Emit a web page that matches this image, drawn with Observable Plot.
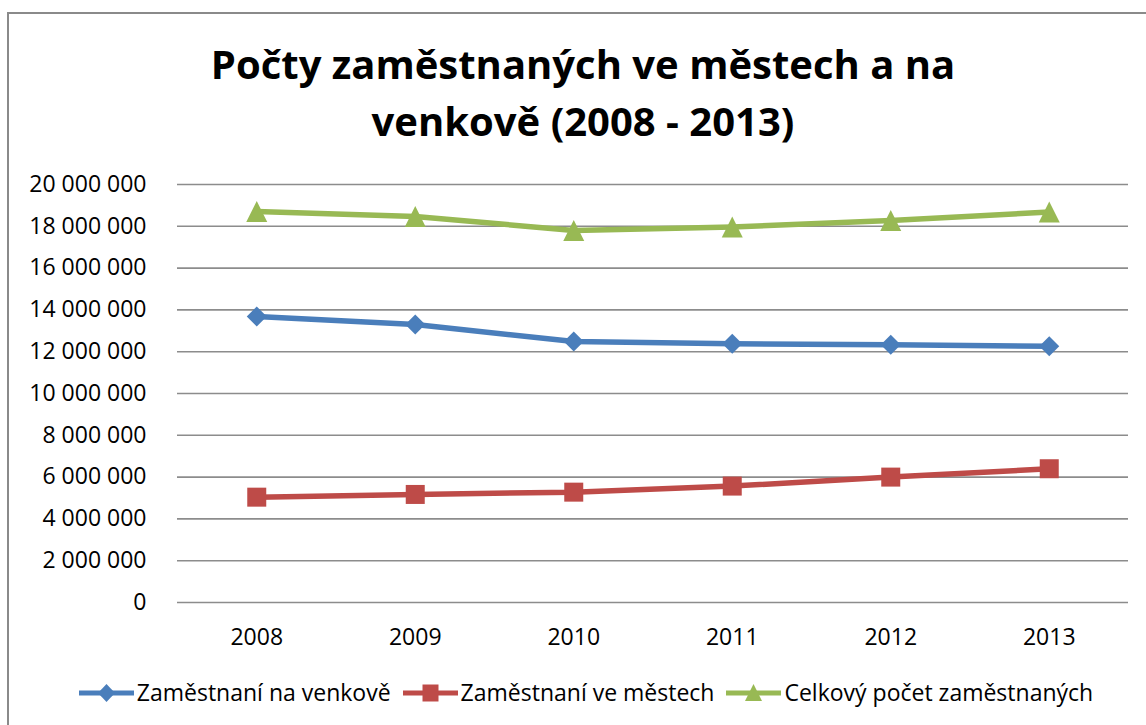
<!DOCTYPE html>
<html>
<head>
<meta charset="utf-8">
<script src="https://cdn.jsdelivr.net/npm/d3@7"></script>
<script src="https://cdn.jsdelivr.net/npm/@observablehq/plot@0.6"></script>
<style>
html, body { margin: 0; padding: 0; background: #fff; overflow: hidden; }
#wrap { position: relative; width: 1146px; height: 725px; overflow: hidden; font-family: "Open Sans", sans-serif; color: #000; }
#frame { position: absolute; left: 7px; top: 12px; width: 1170px; height: 740px; border: 2px solid #8a8a8a; box-sizing: border-box; }
#title { position: absolute; left: 0; top: 35px; width: 1166px; text-align: center; font-weight: 700; font-size: 40px; line-height: 57px; }
#chart { position: absolute; left: 0; top: 160px; }
#legend { position: absolute; left: 0; top: 677px; width: 1172px; display: flex; justify-content: center; align-items: center; font-size: 23px; line-height: 30px; white-space: nowrap; }
#legend .item { display: flex; align-items: center; margin: 0 6px; }
#legend svg { display: block; margin-right: 3px; }
</style>
</head>
<body>
<div id="wrap">
  <div id="frame"></div>
  <div id="title"></div>
  <div id="chart"></div>
  <div id="legend"></div>
</div>
<script>
// ---- data ----
const titleLines = ["Počty zaměstnaných ve městech a na", "venkově (2008 - 2013)"];
const years = ["2008", "2009", "2010", "2011", "2012", "2013"];
const venkov = [13680000, 13300000, 12490000, 12380000, 12330000, 12260000];
const mesta  = [5040000, 5170000, 5280000, 5570000, 6000000, 6400000];
const celkem = [18710000, 18470000, 17800000, 17970000, 18280000, 18680000];
const seriesNames = ["Zaměstnaní na venkově", "Zaměstnaní ve městech", "Celkový počet zaměstnaných"];
const seriesColors = ["#4A7EBB", "#BE4B48", "#98B954"];
const yTicks = [0, 2000000, 4000000, 6000000, 8000000, 10000000, 12000000, 14000000, 16000000, 18000000, 20000000];

// ---- symbols (half-extent = r) ----
const diamond = { draw(ctx, size) { const r = Math.sqrt(size / Math.PI); ctx.moveTo(0, -r); ctx.lineTo(r, 0); ctx.lineTo(0, r); ctx.lineTo(-r, 0); ctx.closePath(); } };
const square = { draw(ctx, size) { const r = Math.sqrt(size / Math.PI); ctx.moveTo(-r, -r); ctx.lineTo(r, -r); ctx.lineTo(r, r); ctx.lineTo(-r, r); ctx.closePath(); } };
const triangle = { draw(ctx, size) { const r = Math.sqrt(size / Math.PI); ctx.moveTo(0, -r); ctx.lineTo(r, r); ctx.lineTo(-r, r); ctx.closePath(); } };
const symbols = [diamond, square, triangle];
const radii = [10, 9.5, 10.5];

const allSeries = [venkov, mesta, celkem];
const fmt = d => d3.format(",")(d).replace(/,/g, " ");

document.getElementById("title").innerHTML = titleLines.join("<br>");

const marks = [Plot.ruleY(yTicks, { stroke: "#8c8c8c", strokeWidth: 1.6 })];
allSeries.forEach((vals, k) => {
  const rows = years.map((y, i) => ({ year: y, value: vals[i] }));
  marks.push(Plot.line(rows, { x: "year", y: "value", stroke: seriesColors[k], strokeWidth: 5.5, strokeLinejoin: "round" }));
});
allSeries.forEach((vals, k) => {
  const rows = years.map((y, i) => ({ year: y, value: vals[i] }));
  marks.push(Plot.dot(rows, { x: "year", y: "value", symbol: symbols[k], r: radii[k], fill: seriesColors[k], stroke: "none" }));
});

const chart = Plot.plot({
  width: 1146,
  height: 505,
  marginTop: 24,
  marginBottom: 63,
  marginLeft: 177,
  marginRight: 18,
  style: { fontFamily: "'Open Sans', sans-serif", fontSize: "23px", color: "#000", background: "transparent", overflow: "visible" },
  x: { type: "point", domain: years, padding: 0.5, round: false, label: null, tickSize: 0, tickPadding: 26 },
  y: { domain: [0, 20000000], ticks: 10, tickFormat: fmt, label: null, tickSize: 0, tickPadding: 31 },
  marks
});
document.getElementById("chart").appendChild(chart);

// ---- legend ----
const legend = document.getElementById("legend");
const shapePaths = [
  "M27.5,7 L36,16 L27.5,25 L19,16 Z",
  "M19.5,7.5 L35.5,7.5 L35.5,24.5 L19.5,24.5 Z",
  "M27.5,7 L36,24 L19,24 Z"
];
seriesNames.forEach((name, k) => {
  const item = document.createElement("div");
  item.className = "item";
  item.innerHTML = `<svg width="55" height="30"><line x1="0" y1="16" x2="55" y2="16" stroke="${seriesColors[k]}" stroke-width="5" stroke-linecap="round"/><path d="${shapePaths[k]}" fill="${seriesColors[k]}"/></svg><span>${name}</span>`;
  legend.appendChild(item);
});
</script>
</body>
</html>
